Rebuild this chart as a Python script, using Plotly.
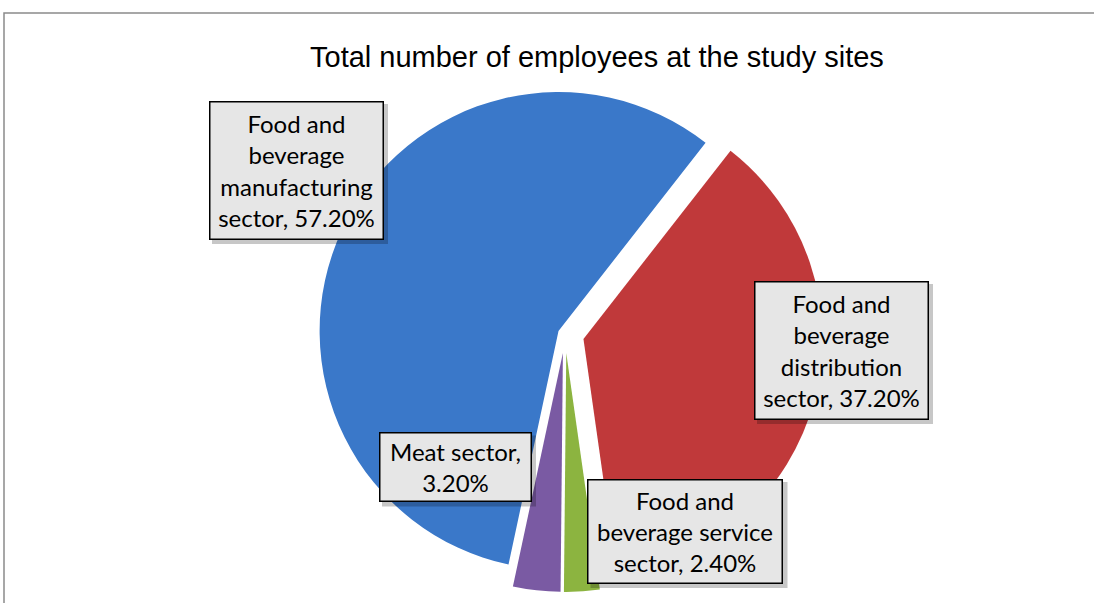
import plotly.graph_objects as go

# Data
sectors = ["Food and beverage distribution sector",
           "Food and beverage service sector",
           "Meat sector",
           "Food and beverage manufacturing sector"]
shares = [37.2, 2.4, 3.2, 57.2]
label_texts = ["Food and<br>beverage<br>distribution<br>sector, 37.20%",
               "Food and<br>beverage service<br>sector, 2.40%",
               "Meat sector,<br>3.20%",
               "Food and<br>beverage<br>manufacturing<br>sector, 57.20%"]
colors = ["#c0393a", "#8cb440", "#7a5aa3", "#3a78c9"]
title = "Total number of employees at the study sites"

W, H = 1094, 603

def px(x):
    return x / W

def py(y):
    return 1 - y / H

fig = go.Figure()
fig.add_trace(go.Pie(
    labels=sectors, values=shares, sort=False, direction="clockwise",
    rotation=38, pull=[0.08, 0.08, 0.08, 0.03],
    marker=dict(colors=colors, line=dict(width=0)),
    textinfo="none", hoverinfo="label+percent", showlegend=False,
    domain=dict(x=[px(565 - 258), px(565 + 258)], y=[py(334 + 258), py(334 - 258)]),
))

# label boxes: (center x, center y, width, height)
boxes = [(841, 350, 176, 140), (685, 531, 197, 106), (455, 467, 154, 71), (296, 170, 176, 140)]
for txt, (cx, cy, bw, bh) in zip(label_texts, boxes):
    # soft shadow
    fig.add_shape(type="rect", xref="paper", yref="paper", layer="above",
                  x0=px(cx - bw / 2 + 4), x1=px(cx + bw / 2 + 4),
                  y0=py(cy + bh / 2 + 4), y1=py(cy - bh / 2 + 4),
                  line=dict(width=0), fillcolor="rgba(0,0,0,0.22)")
    fig.add_annotation(
        x=px(cx), y=py(cy), xref="paper", yref="paper", text=txt, showarrow=False,
        xanchor="center", yanchor="middle", align="center",
        width=bw - 4, height=bh - 4, borderpad=0,
        bgcolor="#e6e6e6", bordercolor="#000000", borderwidth=1.5,
        font=dict(family="Lato, Open Sans, sans-serif", size=24, color="#000000"),
    )

fig.add_annotation(
    x=px(597), y=py(57), xref="paper", yref="paper", text=title, showarrow=False,
    xanchor="center", yanchor="middle",
    font=dict(family="Liberation Sans, Arial, sans-serif", size=29, color="#000000"),
)

# frame
fig.add_shape(type="rect", xref="paper", yref="paper",
              x0=px(4), x1=1.05, y0=-0.05, y1=py(13),
              line=dict(color="#8a8a8a", width=1.5), fillcolor="rgba(0,0,0,0)")

fig.update_layout(width=W, height=H, margin=dict(l=0, r=0, t=0, b=0),
                  paper_bgcolor="white", plot_bgcolor="white")

fig.write_html("out.html")
